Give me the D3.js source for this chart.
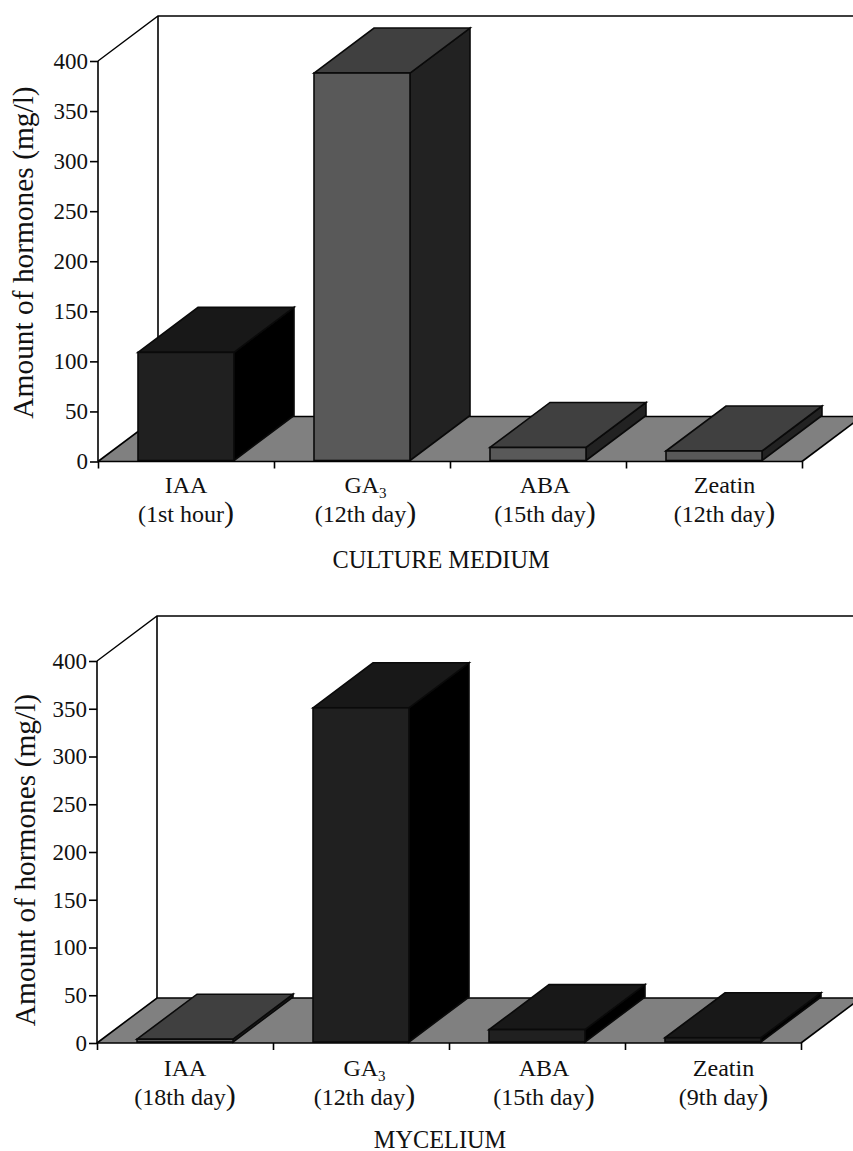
<!DOCTYPE html>
<html><head><meta charset="utf-8">
<script src="https://cdn.jsdelivr.net/npm/d3@7"></script>
<style>html,body{margin:0;padding:0;background:#fff}svg{display:block}text{font-family:"Liberation Serif",serif;fill:#111}</style>
</head><body><svg id="c" width="853" height="1151"></svg>
<script>
const hormones = ["IAA","GA","ABA","Zeatin"];
const subs = ["","3","",""];
const timesMedium = ["(1st hour","(12th day","(15th day","(12th day"];
const timesMycelium = ["(18th day","(12th day","(15th day","(9th day"];
const valuesMedium = [109,388,14,10.5];
const valuesMycelium = [4,351,14,5.5];
const shadesMedium = ["dark","mid","mid","mid"];
const shadesMycelium = ["mid","dark","dark","dark"];
const yTicks = [0,50,100,150,200,250,300,350,400];
const palette = {dark:{front:"#202020",top:"#181818",side:"#000000"},mid:{front:"#595959",top:"#404040",side:"#222222"}};

const svg = d3.select("#c");
function panel(o){
  const g = svg.append("g");
  const x = d3.scaleBand().domain(d3.range(4)).range([o.x0,o.x1]).paddingInner(0.4545).paddingOuter(0.2273);
  const labelX = d3.scalePoint().domain(d3.range(4)).range([o.x0+88,o.x0+88+538.5]);
  const y = d3.scaleLinear().domain([0,400]).range([o.y0,o.y400]);
  const dx=60, dy=-45;
  const X0=o.x0, X1=o.x1, Y0=o.y0, Y4=o.y400;
  const line=d3.line();
  // floor
  g.append("path").attr("d",line([[X0,Y0],[X1,Y0],[X1+dx,Y0+dy],[X0+dx,Y0+dy]])+"Z").attr("fill","#808080").attr("stroke","none");
  // walls
  g.append("path").attr("d",line([[X0,Y0],[X0+dx,Y0+dy],[X1+dx,Y0+dy]])).attr("fill","none").attr("stroke","#000").attr("stroke-width",1.6);
  g.append("path").attr("d",line([[X1,Y0],[X1+dx,Y0+dy]])).attr("fill","none").attr("stroke","#000").attr("stroke-width",1.6);
  g.append("path").attr("d",line([[X0,Y4],[X0+dx,Y4+dy],[X1+dx,Y4+dy]])).attr("fill","none").attr("stroke","#000").attr("stroke-width",1.4);
  g.append("line").attr("x1",X0+dx).attr("x2",X0+dx).attr("y1",Y4+dy).attr("y2",Y0+dy).attr("stroke","#000").attr("stroke-width",1.6);
  // bars
  o.values.forEach((v,i)=>{
    const l=x(i), r=l+x.bandwidth(), t=y(v), b=Y0-1;
    const c=palette[o.shades[i]];
    const st=s=>s.attr("stroke","#0a0a0a").attr("stroke-width",1.6).attr("stroke-linejoin","miter");
    st(g.append("path").attr("d",line([[r,b],[r+dx,b+dy],[r+dx,t+dy],[r,t]])+"Z").attr("fill",c.side));
    st(g.append("path").attr("d",line([[l,t],[l+dx,t+dy],[r+dx,t+dy],[r,t]])+"Z").attr("fill",c.top));
    st(g.append("rect").attr("x",l).attr("y",t).attr("width",x.bandwidth()).attr("height",Math.max(0,b-t)).attr("fill",c.front));
  });
  // axes
  const ya=g.append("g").attr("transform",`translate(${X0},0)`).call(d3.axisLeft(y).tickValues(yTicks).tickSize(8).tickPadding(2).tickFormat(d3.format("d")));
  ya.selectAll("path,line").attr("stroke","#000").attr("stroke-width",1.6);
  ya.selectAll("text").attr("font-size",23).attr("font-family","Liberation Serif").attr("fill","#111");
  ya.select(".domain").attr("d",`M0,${Y0}V${Y4}`);
  const xa=g.append("g").attr("transform",`translate(0,${Y0})`).call(d3.axisBottom(d3.scaleLinear().domain([0,4]).range([X0,X1])).ticks(4).tickSize(7).tickFormat(""));
  xa.selectAll("path,line").attr("stroke","#000").attr("stroke-width",1.6);
  xa.select(".domain").attr("d",`M${X0},0H${X1}`);
  // labels
  hormones.forEach((h,i)=>{
    const cx=labelX(i);
    const t=g.append("text").attr("x",cx).attr("y",Y0+o.line1).attr("text-anchor","middle").attr("font-size",24).text(h);
    if(subs[i]) t.append("tspan").attr("font-size",15).attr("dy",5).text(subs[i]);
    const u=g.append("text").attr("x",cx).attr("y",Y0+o.line1+29).attr("text-anchor","middle").attr("font-size",24).text(o.times[i]);
    u.append("tspan").attr("font-size",30).text(")");
  });
  g.append("text").attr("x",o.titleX).attr("y",Y0+o.titleDy).attr("text-anchor","middle").attr("font-size",24.3).text(o.title);
  g.append("text").attr("transform",`translate(${o.yLabelX},${o.yLabelY}) rotate(-90)`).attr("text-anchor","middle").attr("font-size",29.4).text("Amount of hormones (mg/l)");
}
panel({x0:98,x1:802,y0:461.5,y400:61,values:valuesMedium,shades:shadesMedium,times:timesMedium,title:"CULTURE MEDIUM",titleX:441,titleDy:106.5,yLabelX:33,yLabelY:252.5,line1:31.5});
panel({x0:97,x1:801,y0:1043,y400:661,values:valuesMycelium,shades:shadesMycelium,times:timesMycelium,title:"MYCELIUM",titleX:440,titleDy:105,yLabelX:35,yLabelY:860,line1:33});
</script></body></html>
